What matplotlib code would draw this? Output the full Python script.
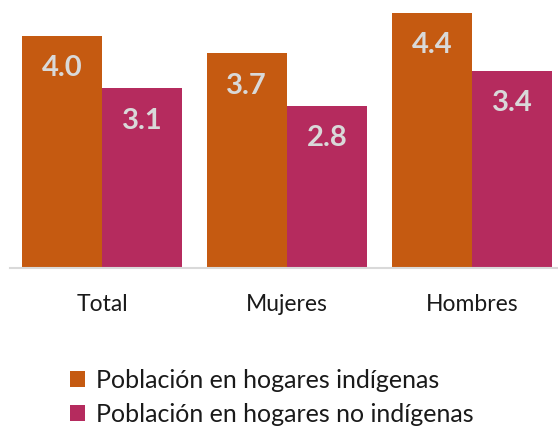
import matplotlib.pyplot as plt
import numpy as np

categories = ["Total", "Mujeres", "Hombres"]
indigenas = [4.0, 3.7, 4.4]
no_indigenas = [3.1, 2.8, 3.4]
series_names = ["Población en hogares indígenas", "Población en hogares no indígenas"]
colors = ["#C55A11", "#B52B5E"]

plt.rcParams['font.family'] = ['Lato', 'DejaVu Sans']

fig = plt.figure(figsize=(5.58, 4.29), dpi=100)
ax = fig.add_axes([9.5 / 558, (429 - 268) / 429, 555 / 558, 268 / 429])

x = np.arange(len(categories))
w = 0.435
b1 = ax.bar(x - w / 2, indigenas, w, color=colors[0], label=series_names[0])
b2 = ax.bar(x + w / 2, no_indigenas, w, color=colors[1], label=series_names[1])

for bars, vals in [(b1, indigenas), (b2, no_indigenas)]:
    for r, v in zip(bars, vals):
        ax.text(r.get_x() + r.get_width() / 2, v - 0.56, f"{v:.1f}",
                ha='center', va='center', fontsize=21, fontweight='bold', color='#D9D9D9')

ax.set_xlim(-0.5, 2.5)
ax.set_ylim(0, 268 / 58)
ax.set_yticks([])
ax.set_xticks(x)
ax.set_xticklabels(categories, fontsize=16.5, color='#1A1A1A')
ax.tick_params(axis='x', length=0, pad=19)
for s in ['top', 'right', 'left']:
    ax.spines[s].set_visible(False)
ax.spines['bottom'].set_color('#D9D9D9')
ax.spines['bottom'].set_linewidth(1.5)

fig.legend(loc='upper left', bbox_to_anchor=(70 / 558, 1 - 369 / 429), frameon=False,
           fontsize=18, handlelength=0.6, handleheight=0.6, handletextpad=0.45,
           labelspacing=0.42, borderpad=0, borderaxespad=0, labelcolor='#1A1A1A')

fig.savefig('out.png', dpi=100)
